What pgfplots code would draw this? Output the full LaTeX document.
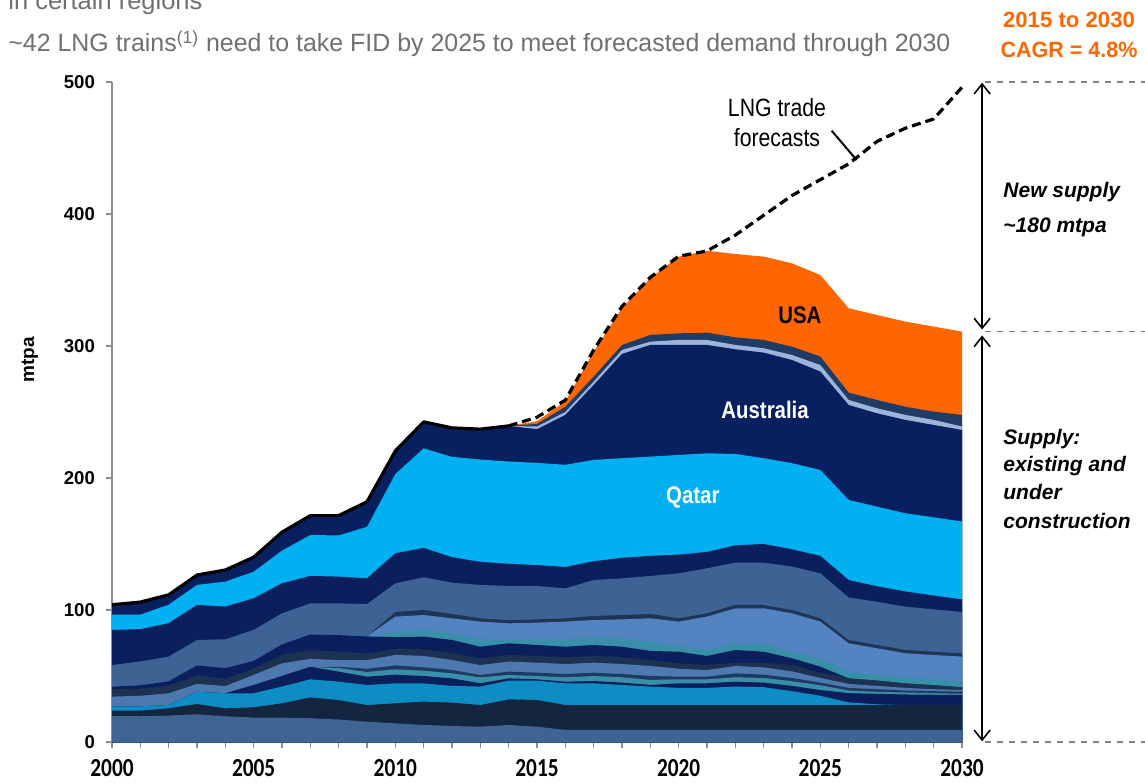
\documentclass[border=0pt]{standalone}
\usepackage{fontspec}
\setmainfont{Liberation Sans}
\newfontfamily\carlito{Carlito}
\usepackage{graphicx}
\usepackage{pgfplots}
\usepackage{pgfplotstable}
\pgfplotsset{compat=1.18}
\usetikzlibrary{arrows.meta}

\definecolor{cL1}{HTML}{3F6494}
\definecolor{cL2}{HTML}{14263F}
\definecolor{cL3}{HTML}{0E8DC4}
\definecolor{cNavy}{HTML}{0A1F5C}
\definecolor{cTeal}{HTML}{3A8FA8}
\definecolor{cD1}{HTML}{1F3A5F}
\definecolor{cL5}{HTML}{4D78B0}
\definecolor{cL7}{HTML}{1C3250}
\definecolor{cN2}{HTML}{5383C1}
\definecolor{cN3}{HTML}{1F3557}
\definecolor{cL10}{HTML}{3D6395}
\definecolor{cQ}{HTML}{00B0F0}
\definecolor{cA}{HTML}{082060}
\definecolor{cLav}{HTML}{9DB3DA}
\definecolor{cDk}{HTML}{1E3C66}
\definecolor{cUSA}{HTML}{FF6600}
\definecolor{cGrayTxt}{HTML}{707070}

\pgfplotstableread{
year L1 L2 L3 L4 L4b D1 L5 L7 L9 N1 N2 N3 L10 L11 Q A Lav Dk USA
2000 19.7 23.7 26.8 26.8 26.8 26.8 34.4 39.9 41.9 41.9 41.9 41.9 58.3 84.9 96.5 104 104 104 104
2001 19.5 23.7 27.0 27.0 27.0 27.0 35.0 40.5 43.0 43.0 43.0 43.0 61.0 85.5 96.5 106 106 106 106
2002 20.0 25.5 28.0 28.0 28.0 28.0 36.9 42.5 46.0 46.0 46.0 46.0 64.7 90.0 104 111.5 111.5 111.5 111.5
2003 21.0 28.8 38.0 38.0 38.0 38.0 44.0 50.5 58.0 58.0 58.0 58.0 77.3 103.8 119 126.5 126.5 126.5 126.5
2004 19.5 25.5 36.9 36.9 36.9 36.9 42.4 48.0 56.0 56.0 56.0 56.0 77.8 102.6 121.5 130.3 130.3 130.3 130.3
2005 18.5 26.3 36.9 43.2 43.2 43.2 50.8 55.5 61.5 61.5 61.5 61.5 84.9 108.9 129 140 140 140 140
2006 18.5 29.3 42.0 50.0 50.0 50.0 59.6 66.0 74.0 74.0 74.0 74.0 97.5 120.2 145 159 159 159 159
2007 18.0 33.8 47.5 57.0 57.0 57.0 63.0 69.5 81.5 81.5 81.5 81.5 105 125.8 156.8 171.5 171.5 171.5 171.5
2008 17.0 31.8 45.7 53.3 56.0 57.0 62.0 68.5 81.0 81.0 81.0 81.0 105 125.3 156.5 171.5 171.5 171.5 171.5
2009 15.4 28.0 43.2 49.5 53.0 55.5 62.0 67.0 80.0 80.0 80.0 80.0 104.5 124 163 182 182 182 182
2010 14.1 29.3 44.4 51.0 55.0 58.0 66.0 70.5 79.5 83.0 95.0 98.5 120.2 143 203 220.5 220.5 220.5 220.5
2011 12.9 30.6 44.4 50.0 54.0 56.6 65.2 70.2 79.8 84.9 96.2 100 124.8 147 222.5 242.5 242.5 242.5 242.5
2012 12.1 29.8 42.5 48.2 52.0 54.5 62.1 67.2 77.3 82.3 93.7 97.0 120.7 140 216 238 238 238 238
2013 11.6 28.0 42.0 44.5 49.0 50.8 58.3 63.4 72.2 78.5 91.2 93.7 119 136.5 214 237 237 237 237
2014 12.9 32.3 46.5 48.2 50.8 53.3 60.9 65.9 74.8 77.3 89.9 92.4 118.2 135 212.5 239.5 239.5 239.5 239.5
2015 11.6 31.8 46.5 47.5 50.0 52.5 60.1 65.2 73.5 77.8 90.4 92.9 118.2 134 211.5 237 239 241 243
2016 9.1 28 44.4 45.7 49 51.5 59.1 64.2 72.2 77.8 91.2 93.7 116.4 132.6 210 247.8 250 254 258
2017 9.1 28 44.4 46.2 50 52.5 60.1 65.2 73.5 79.3 92.4 95.5 122.7 137 213.7 270.5 273 276.8 295.7
2018 9.1 28 43.2 45 49 51.5 59.1 64.2 72.2 78.5 92.9 96.2 124 139.5 215 294 297 300.8 328.6
2019 9.1 28 42 43.2 47 50 57.6 62.1 69 76 93.7 97 125.8 141 216.2 300.8 303.3 308.4 351.3
2020 9.1 28 41 44.5 47.5 49.5 55.5 59.5 68.4 72.7 91.2 93.7 127.8 142 217.5 300.8 304.6 309.6 367.7
2021 9.1 28 41 44.5 47.5 49.5 54.5 58.3 65.2 69.7 95 97.5 131.6 144 218.7 300.8 304.6 310.1 372.2
2022 9.1 28 42 45.7 49 52 57.6 60.1 69.7 74.8 101.3 103.8 135.9 149 218.2 297.5 300.8 306.6 369.7
2023 9.1 28 41.5 45 48.5 51 56.5 60.1 68.4 74.3 101.3 103.8 135.9 150 215 295 298.3 304.6 367.7
2024 9.1 28 38.5 42.5 46 48.5 53.5 58.3 63.4 68.4 97.5 100 132.9 146 211.2 289.4 293.2 299.5 362.6
2025 9.1 28 35 39.4 43 45 48.5 52.5 57.1 63.4 91.2 93.7 127.8 141 206.1 280.6 285.6 292 353.8
2026 9.1 28 30 37 39 41 44 48.2 48.2 53.3 74.8 77.3 109.5 122.7 183.4 255.3 259.1 264.7 328.6
2027 9.1 28 28.5 36.5 38 40 42.5 46.5 46.5 50.8 71 73.5 106.3 118 178.3 249 252.8 259.1 323.5
2028 9.1 28 28 36 37.5 39 41 44.4 44.4 49 67.2 69.7 102.5 114 173.3 244 247.8 254 318.5
2029 9.1 28 28 35.8 37 38.5 40 43 43 47.5 65.9 68.4 100.5 111 170.2 240.2 244 250.3 314.7
2030 9.1 28 28 35.6 36.5 38.1 39.4 41.4 41.4 45.7 64.7 67.2 98.5 108 167 236.4 239 247.8 310.9
}\supply

\newcommand{\sx}[1]{\scalebox{0.82}[1]{#1}}
\newcommand{\cond}[1]{\scalebox{0.85}[1]{#1}}
\newcommand{\layer}[2]{\addplot[draw=none, fill=#2] table[x=year, y=#1]{\supply} \closedcycle;}

\begin{document}
\begin{tikzpicture}
\useasboundingbox[fill=white] (0,0) rectangle (572.5pt,391pt);
% titles
\node[anchor=base west, inner sep=0pt, text=cGrayTxt, font=\fontsize{12.5}{14}\selectfont] at (4pt,386pt) {\resizebox{97pt}{\height}{in certain regions}};
\node[anchor=base west, inner sep=0pt, text=cGrayTxt, font=\fontsize{12.5}{14}\selectfont] at (4pt,365pt) {\resizebox{471pt}{\height}{\textasciitilde 42 LNG trains\textsuperscript{(1)} need to take FID by 2025 to meet forecasted demand through 2030}};
\node[anchor=base, inner sep=0pt, text=cUSA, font=\bfseries\fontsize{11}{12}\selectfont] at (534.5pt,377pt) {\resizebox{66pt}{\height}{2015 to 2030}};
\node[anchor=base, inner sep=0pt, text=cUSA, font=\bfseries\fontsize{11}{12}\selectfont] at (534.5pt,362pt) {\resizebox{68.5pt}{\height}{CAGR = 4.8\%}};
\node[rotate=90, font=\bfseries\fontsize{9.5}{10}\selectfont] at (15pt,211pt) {mtpa};

\begin{axis}[
  at={(56pt,20pt)}, anchor=south west,
  scale only axis, width=425pt, height=330pt,
  xmin=2000, xmax=2030, ymin=0, ymax=500,
  axis x line*=bottom, axis y line*=left,
  axis line style={draw=black!45, line width=0.8pt},
  tick align=outside,
  major tick length=3pt, minor tick length=3pt,
  tick style={draw=black!45, line width=0.6pt},
  xtick={2000,2005,...,2030},
  minor xtick={2001,2002,2003,2004,2006,2007,2008,2009,2011,2012,2013,2014,2016,2017,2018,2019,2021,2022,2023,2024,2026,2027,2028,2029},
  xticklabels={\sx{2000},\sx{2005},\sx{2010},\sx{2015},\sx{2020},\sx{2025},\sx{2030}},
  xticklabel style={font=\carlito\bfseries\fontsize{13}{13}\selectfont, yshift=-2pt},
  ytick={0,100,...,500},
  yticklabels={0,100,200,300,400,500},
  yticklabel style={font=\bfseries\fontsize{9.3}{10}\selectfont, xshift=-2pt},
  clip=false,
]
\layer{USA}{cUSA}
\layer{Dk}{cDk}
\layer{Lav}{cLav}
\layer{A}{cA}
\layer{Q}{cQ}
\layer{L11}{cNavy}
\layer{L10}{cL10}
\layer{N3}{cN3}
\layer{N2}{cN2}
\layer{N1}{cTeal}
\layer{L9}{cNavy}
\layer{L7}{cL7}
\layer{L5}{cL5}
\layer{D1}{cD1}
\layer{L4b}{cTeal}
\layer{L4}{cNavy}
\layer{L3}{cL3}
\layer{L2}{cL2}
\layer{L1}{cL1}

% historical outline
\addplot[black, line width=1.6pt, line join=round] coordinates {
(2000,104) (2001,106) (2002,111.5) (2003,126.5) (2004,130.3) (2005,140) (2006,159) (2007,171.5) (2008,171.5) (2009,182) (2010,220.5) (2011,242.5) (2012,238) (2013,237) (2014,239.5)};
% LNG trade forecasts
\addplot[black, line width=1.6pt, dash pattern=on 4.5pt off 2.5pt] coordinates {
(2014,239.5) (2015,246) (2016,259) (2017,297) (2018,330) (2019,352) (2020,368) (2021,372) (2022,384) (2023,399) (2024,414) (2025,426) (2026,438) (2027,455) (2028,465) (2029,472) (2030,496)};

% inner labels
\node[font=\bfseries\fontsize{12}{12}\selectfont] at (axis cs:2024.28,323.5) {\cond{USA}};
\node[text=white, font=\bfseries\fontsize{12}{12}\selectfont] at (axis cs:2023.05,251.5) {\cond{Australia}};
\node[text=white, font=\bfseries\fontsize{12}{12}\selectfont] at (axis cs:2020.5,185.6) {\cond{Qatar}};
\node[anchor=base, font=\fontsize{12.5}{13}\selectfont, inner sep=0pt] at (axis cs:2023.47,473.5) {\cond{LNG trade}};
\node[anchor=base, font=\fontsize{12.5}{13}\selectfont, inner sep=0pt] at (axis cs:2023.47,450.8) {\cond{forecasts}};
\draw[black, line width=1pt] (axis cs:2025.40,463.1) -- (axis cs:2026.28,440.9);

% right annotations
\draw[black!50, dashed, line width=0.6pt] (axis cs:2030.81,500) -- (axis cs:2036.5,500);
\draw[black!50, dashed, line width=0.6pt] (axis cs:2030.81,311) -- (axis cs:2036.5,311);
\draw[black!50, dashed, line width=0.6pt] (axis cs:2030.81,0) -- (axis cs:2036.5,0);
\draw[black, line width=0.8pt, {Straight Barb[length=5pt,width=8pt]}-{Straight Barb[length=5pt,width=8pt]}] (axis cs:2030.71,499.5) -- (axis cs:2030.71,312.5);
\draw[black, line width=0.8pt, {Straight Barb[length=5pt,width=8pt]}-{Straight Barb[length=5pt,width=8pt]}] (axis cs:2030.71,308) -- (axis cs:2030.71,0.5);
\end{axis}

\begin{scope}[every node/.style={anchor=base west, inner sep=0pt, font=\bfseries\itshape\fontsize{10.5}{12}\selectfont}]
\node at (501.5pt,292pt) {New supply};
\node at (501.5pt,274.5pt) {\textasciitilde 180 mtpa};
\node at (501.5pt,168.5pt) {Supply:};
\node at (501.5pt,155pt) {existing and};
\node at (501.5pt,141pt) {under};
\node at (501.5pt,126.5pt) {construction};
\end{scope}
\end{tikzpicture}
\end{document}
